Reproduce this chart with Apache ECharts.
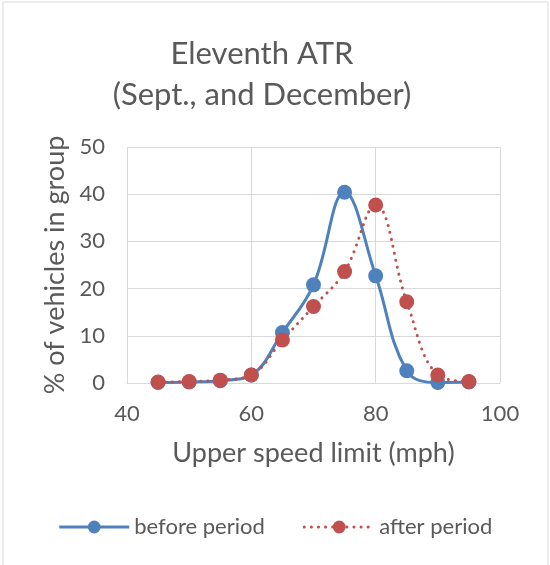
<!DOCTYPE html>
<html><head><meta charset="utf-8">
<script src="https://cdn.jsdelivr.net/npm/echarts@6/dist/echarts.min.js"></script>
<style>html,body{margin:0;padding:0;background:#fff}#c{width:550px;height:565px}</style>
</head><body><div id="c"></div>
<script>
var speeds = [45, 50, 55, 60, 65, 70, 75, 80, 85, 90, 95];
var beforePeriod = [0.1, 0.2, 0.5, 1.7, 10.7, 20.8, 40.4, 22.7, 2.6, 0.1, 0.2];
var afterPeriod = [0.2, 0.3, 0.6, 1.7, 9.1, 16.2, 23.6, 37.7, 17.2, 1.7, 0.3];
var titleLines = ['Eleventh ATR', '(Sept., and December)'];
var xTicks = [40, 60, 80, 100];
var yTicks = [0, 10, 20, 30, 40, 50];

var FONT = 'Lato';
var TXT = '#595959';
var GRID = '#d9d9d9';
function pairs(vals){ return speeds.map(function(s,i){ return [s, vals[i]]; }); }

var chart = echarts.init(document.getElementById('c'), null, {renderer:'canvas'});
chart.setOption({
  animation: false,
  backgroundColor: '#fff',
  textStyle: {fontFamily: FONT},
  title: {
    text: titleLines.join('\n'),
    left: 257, textAlign: 'center', top: 28,
    textStyle: {fontFamily: FONT, fontSize: 31, fontWeight: 'normal', color: TXT, lineHeight: 41}
  },
  graphic: [{type:'rect', shape:{x:3, y:2, width:545, height:570}, style:{fill:'none', stroke:GRID, lineWidth:1}, silent:true}],
  grid: {left: 127, right: 50, top: 147, bottom: 182, containLabel: false},
  legend: {
    bottom: 22, left: 'center', itemWidth: 70, itemHeight: 16, itemGap: 38,
    lineStyle: {width: 3},
    textStyle: {fontFamily: FONT, fontSize: 22, color: TXT},
    data: ['before period', 'after period']
  },
  xAxis: {
    type: 'value', min: xTicks[0], max: xTicks[xTicks.length-1], interval: 20,
    name: 'Upper speed limit (mph)', nameLocation: 'middle', nameGap: 57,
    nameTextStyle: {fontFamily: FONT, fontSize: 27, color: TXT},
    axisLine: {show: true, lineStyle: {color: GRID, width: 1}},
    axisTick: {show: false},
    axisLabel: {fontFamily: FONT, fontSize: 22, color: TXT, margin: 20},
    splitLine: {show: true, lineStyle: {color: GRID, width: 1}}
  },
  yAxis: {
    type: 'value', min: yTicks[0], max: yTicks[yTicks.length-1], interval: 10,
    name: '% of vehicles in group', nameLocation: 'middle', nameGap: 56,
    nameTextStyle: {fontFamily: FONT, fontSize: 27, color: TXT},
    axisLine: {show: false}, axisTick: {show: false},
    axisLabel: {fontFamily: FONT, fontSize: 22, color: TXT, margin: 22},
    splitLine: {show: true, lineStyle: {color: GRID, width: 1}}
  },
  series: [
    {name: 'before period', type: 'line', data: pairs(beforePeriod), smooth: 0.4,
     symbol: 'circle', symbolSize: 15, showSymbol: true,
     itemStyle: {color: '#4F81BD'}, lineStyle: {color: '#4F81BD', width: 3}},
    {name: 'after period', type: 'line', data: pairs(afterPeriod), smooth: 0.4,
     symbol: 'circle', symbolSize: 15, showSymbol: true,
     itemStyle: {color: '#C0504D'}, lineStyle: {color: '#C0504D', width: 3, type: [0.1, 7], cap: 'round'}}
  ]
});
</script></body></html>
